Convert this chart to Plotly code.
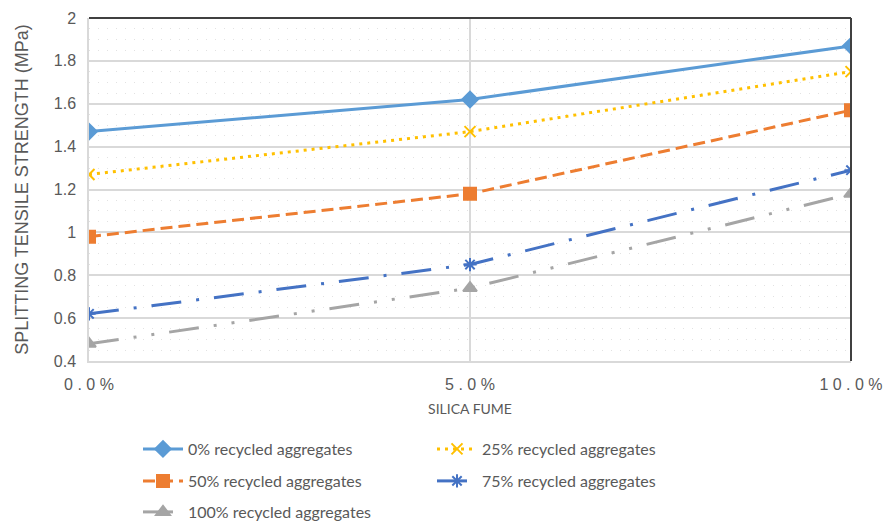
import plotly.graph_objects as go

# Silica fume content (%) and tick labels
silica_fume = [0, 5, 10]
tick_labels = ["0 . 0 %", "5 . 0 %", "1 0 . 0 %"]

# Splitting tensile strength (MPa) per recycled-aggregate replacement level
ra_0 = [1.47, 1.62, 1.87]
ra_25 = [1.27, 1.47, 1.75]
ra_50 = [0.98, 1.18, 1.57]
ra_75 = [0.62, 0.85, 1.29]
ra_100 = [0.48, 0.74, 1.18]

series = [
    ("0% recycled aggregates", ra_0, "#5B9BD5", "solid", "diamond", 12, "legend"),
    ("25% recycled aggregates", ra_25, "#FFC000", "3px,5px", "x-thin-open", 11, "legend"),
    ("50% recycled aggregates", ra_50, "#ED7D31", "12px,6px", "square", 12, "legend2"),
    ("75% recycled aggregates", ra_75, "#4472C4", "30px,15px,3px,15px", "asterisk-open", 11, "legend2"),
    ("100% recycled aggregates", ra_100, "#A5A5A5", "30px,15px,3px,15px,3px,15px", "triangle-up", 12, "legend3"),
]

fig = go.Figure()
for name, vals, color, dash, symbol, size, leg in series:
    fig.add_trace(go.Scatter(
        x=silica_fume, y=vals, name=name, mode="lines+markers",
        line=dict(color=color, width=3, dash=dash),
        marker=dict(symbol=symbol, size=size, color=color,
                    line=dict(color=color, width=2)),
        legend=leg,
    ))

legend_font = dict(family="Lato, Calibri, sans-serif", size=16, color="#595959")


def legend_row(y):
    return dict(
        orientation="h", x=138 / 883, xanchor="left", xref="container",
        y=y, yanchor="middle", yref="container",
        font=legend_font, entrywidth=239, entrywidthmode="pixels",
        itemwidth=40, bgcolor="rgba(0,0,0,0)",
    )


fig.update_layout(
    width=883, height=522,
    margin=dict(l=89, r=32, t=18, b=161, autoexpand=False),
    paper_bgcolor="white", plot_bgcolor="white",
    showlegend=True,
    legend=legend_row(1 - 449 / 522),
    legend2=legend_row(1 - 481 / 522),
    legend3=legend_row(1 - 512 / 522),
    xaxis=dict(
        range=[0, 10], tickvals=silica_fume, ticktext=tick_labels,
        tickfont=dict(family="Liberation Sans, Arial", size=16, color="#595959"),
        showgrid=True, gridcolor="#D9D9D9", gridwidth=1.5,
        showline=True, linecolor="#D9D9D9", linewidth=1.5,
        ticks="", ticklabelstandoff=8, zeroline=False, automargin=False,
        title=dict(text="SILICA FUME",
                   font=dict(family="Lato, Calibri, sans-serif", size=14, color="#595959"),
                   standoff=12),
    ),
    yaxis=dict(
        range=[0.4, 2], dtick=0.2, tickformat="~g",
        tickfont=dict(family="Liberation Sans, Arial", size=16, color="#595959"),
        showgrid=True, gridcolor="#D9D9D9", gridwidth=1.5,
        showline=True, linecolor="#D9D9D9", linewidth=1.5,
        ticks="", zeroline=False, automargin=False, ticklabelstandoff=8,
        minor=dict(dtick=0.05, showgrid=True, gridcolor="#E2E2E2",
                   gridwidth=1, griddash="1px,8px"),
        title=dict(text="SPLITTING TENSILE STRENGTH (MPa)",
                   font=dict(family="Liberation Sans, Arial", size=18, color="#595959"),
                   standoff=20),
    ),
    shapes=[
        dict(type="line", xref="paper", yref="paper", x0=0, x1=1, y0=1, y1=1,
             line=dict(color="#404040", width=2)),
        dict(type="line", xref="paper", yref="paper", x0=1, x1=1, y0=0, y1=1,
             line=dict(color="#404040", width=2)),
    ],
)

fig.write_html("out.html")
